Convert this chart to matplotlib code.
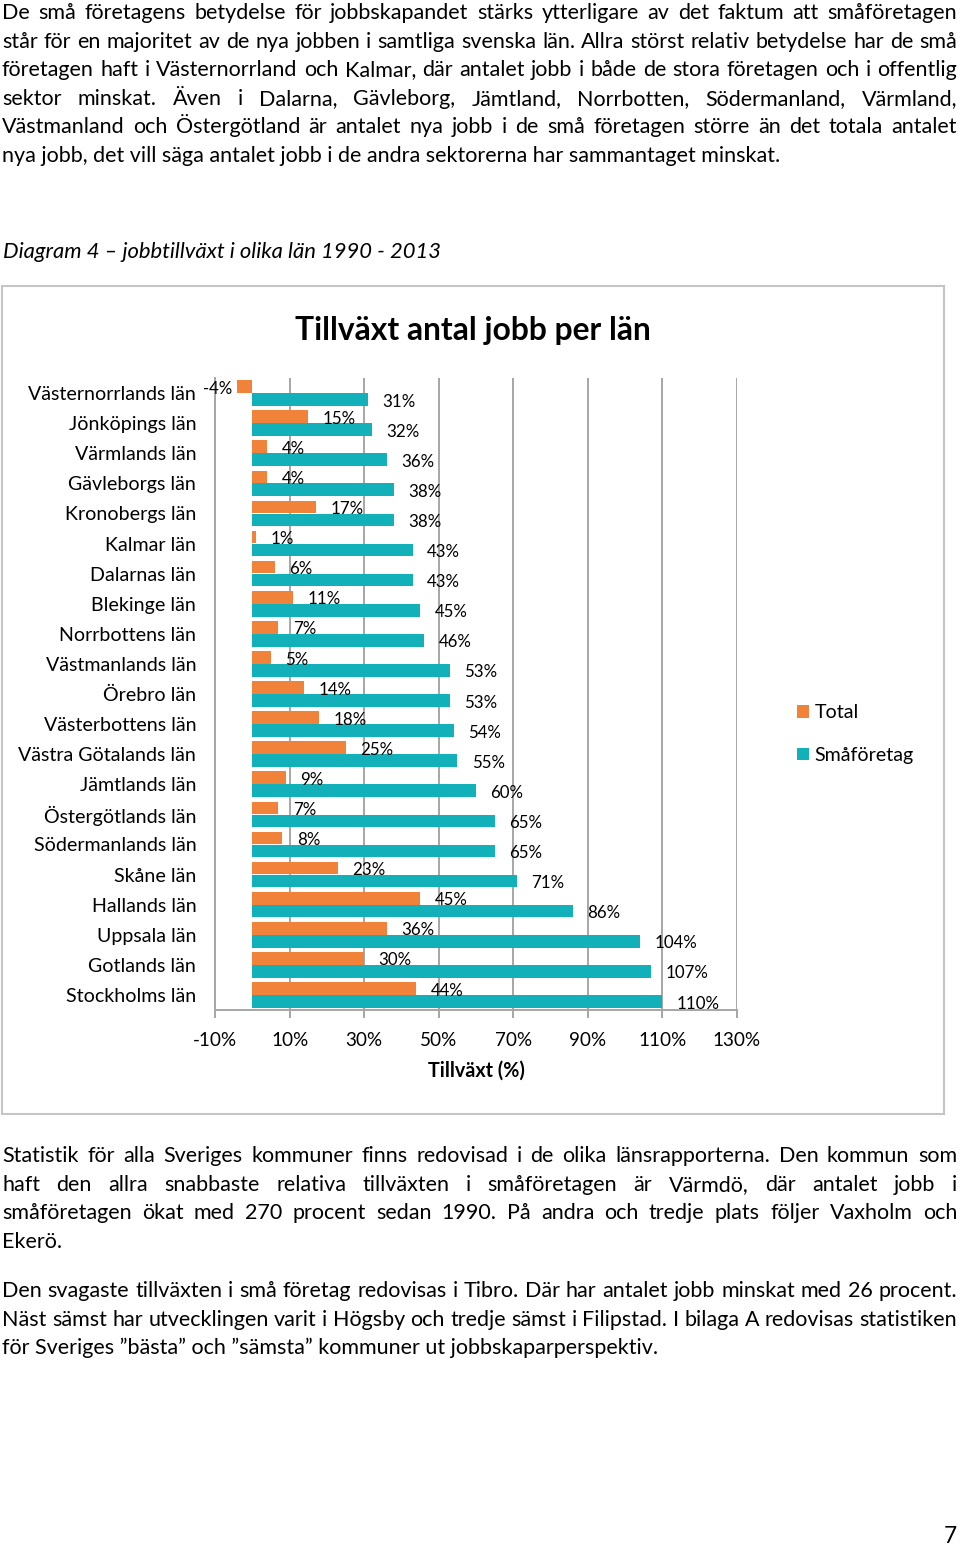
import matplotlib
matplotlib.use("Agg")
import matplotlib.pyplot as plt
from matplotlib.patches import Rectangle
import numpy as np

# data (percent growth 1990-2013)
lan = ["Västernorrlands län", "Jönköpings län", "Värmlands län", "Gävleborgs län",
       "Kronobergs län", "Kalmar län", "Dalarnas län", "Blekinge län", "Norrbottens län",
       "Västmanlands län", "Örebro län", "Västerbottens län", "Västra Götalands län",
       "Jämtlands län", "Östergötlands län", "Södermanlands län", "Skåne län",
       "Hallands län", "Uppsala län", "Gotlands län", "Stockholms län"]
total = [-4, 15, 4, 4, 17, 1, 6, 11, 7, 5, 14, 18, 25, 9, 7, 8, 23, 45, 36, 30, 44]
smaforetag = [31, 32, 36, 38, 38, 43, 43, 45, 46, 53, 53, 54, 55, 60, 65, 65, 71, 86, 104, 107, 110]
xticks = list(range(-10, 131, 20))

top_text = [
    "De små företagens betydelse för jobbskapandet stärks ytterligare av det faktum att småföretagen",
    "står för en majoritet av de nya jobben i samtliga svenska län. Allra störst relativ betydelse har de små",
    "företagen haft i Västernorrland och Kalmar, där antalet jobb i både de stora företagen och i offentlig",
    "sektor minskat. Även i Dalarna, Gävleborg, Jämtland, Norrbotten, Södermanland, Värmland,",
    "Västmanland och Östergötland är antalet nya jobb i de små företagen större än det totala antalet",
    "nya jobb, det vill säga antalet jobb i de andra sektorerna har sammantaget minskat.",
]
bottom_text1 = [
    "Statistik för alla Sveriges kommuner finns redovisad i de olika länsrapporterna. Den kommun som",
    "haft den allra snabbaste relativa tillväxten i småföretagen är Värmdö, där antalet jobb i",
    "småföretagen ökat med 270 procent sedan 1990. På andra och tredje plats följer Vaxholm och",
    "Ekerö.",
]
bottom_text2 = [
    "Den svagaste tillväxten i små företag redovisas i Tibro. Där har antalet jobb minskat med 26 procent.",
    "Näst sämst har utvecklingen varit i Högsby och tredje sämst i Filipstad. I bilaga A redovisas statistiken",
    "för Sveriges ”bästa” och ”sämsta” kommuner ut jobbskaparperspektiv.",
]

orange = "#F0823A"
teal = "#12B0B9"
grey = "#A6A6A6"

plt.rcParams["font.family"] = ["Lato", "DejaVu Sans"]

W, H = 960, 1546
fig = plt.figure(figsize=(W / 100, H / 100), dpi=100)
fig.patch.set_facecolor("white")
renderer = fig.canvas.get_renderer()


def fx(x):
    return x / W


def fy(y):
    return 1 - y / H


def width_px(s, size, **kw):
    t = fig.text(0, 0, s, fontsize=size, **kw)
    w = t.get_window_extent(renderer).width
    t.remove()
    return w


def fit_size(s, target, **kw):
    return 10 * target / width_px(s, 10, **kw)


def paragraph(lines, y0, size, x0=2, x1=957, step=28.6):
    for i, line in enumerate(lines):
        y = fy(y0 + i * step)
        if i == len(lines) - 1:
            fig.text(fx(x0), y, line, fontsize=size, va="baseline")
            continue
        words = line.split(" ")
        ws = [width_px(w, size) for w in words]
        gap = (x1 - x0 - sum(ws)) / (len(words) - 1)
        x = x0
        for w, wd in zip(words, ws):
            fig.text(fx(x), y, w, fontsize=size, va="baseline")
            x += wd + gap


body = min(fit_size(top_text[-1], 790), fit_size(bottom_text2[1], 950))
paragraph(top_text, 19, body)
paragraph(bottom_text1, 1162, body)
paragraph(bottom_text2, 1297, body)

cap = "Diagram 4 – jobbtillväxt i olika län 1990 - 2013"
fig.text(fx(3), fy(258), cap, fontsize=fit_size(cap, 438, style="italic"),
         style="italic", va="baseline")

fig.text(fx(957), fy(1543), "7", fontsize=body * 1.05, ha="right", va="baseline")

# chart frame
fig.add_artist(Rectangle((fx(2), fy(1114)), fx(942), (1114 - 286) / H,
                         transform=fig.transFigure, fill=False, ec="#C4C4C4", lw=1.5))

title = "Tillväxt antal jobb per län"
fig.text(fx(473), fy(340), title, fontsize=fit_size(title, 356, weight="bold"),
         weight="bold", ha="center", va="baseline")

ax = fig.add_axes([fx(215), fy(1010), (737 - 215) / W, (1010 - 378) / H])
y = np.arange(len(lan))
h = 0.42
b1 = ax.barh(y - 0.215, total, height=h, color=orange, zorder=3)
b2 = ax.barh(y + 0.215, smaforetag, height=h, color=teal, zorder=3)
ax.set_xlim(-10, 130)
ax.set_ylim(len(lan) - 0.5, -0.5)

lab_size = fit_size("31%", 33)
for yi, v in zip(y, total):
    ax.annotate(f"{v}%", (v, yi - 0.215), xytext=(10.5 if v >= 0 else -3.5, -1.5),
                textcoords="offset points", ha="left" if v >= 0 else "right",
                va="center", fontsize=lab_size)
for yi, v in zip(y, smaforetag):
    ax.annotate(f"{v}%", (v, yi + 0.215), xytext=(10.5, -1.5),
                textcoords="offset points", ha="left", va="center", fontsize=lab_size)

ax.set_xticks(xticks, [f"{t}%" for t in xticks])
ax.set_yticks(y, lan)
ax.xaxis.grid(True, color=grey, lw=1.4)
ax.set_axisbelow(True)
for s in ["top", "right"]:
    ax.spines[s].set_visible(False)
for s in ["left", "bottom"]:
    ax.spines[s].set_color(grey)
    ax.spines[s].set_linewidth(1.4)
ax.tick_params(axis="x", length=6, width=1.4, color=grey, pad=10,
               labelsize=fit_size("-10%", 44))
ax.tick_params(axis="y", length=0, pad=13.5, labelsize=fit_size("Västernorrlands län", 168))
ax.set_xlabel("Tillväxt (%)", fontweight="bold", labelpad=8,
              fontsize=fit_size("Tillväxt (%)", 97, weight="bold"))

leg_size = fit_size("Småföretag", 99)
ax.legend([b1, b2], ["Total", "Småföretag"], loc="center left",
          bbox_to_anchor=(fx(797), fy(734)), bbox_transform=fig.transFigure,
          frameon=False, fontsize=leg_size, handlelength=0.6, handleheight=0.6,
          handletextpad=0.3, labelspacing=1.3, borderpad=0, borderaxespad=0)

fig.savefig("out.png", dpi=100, facecolor="white")
